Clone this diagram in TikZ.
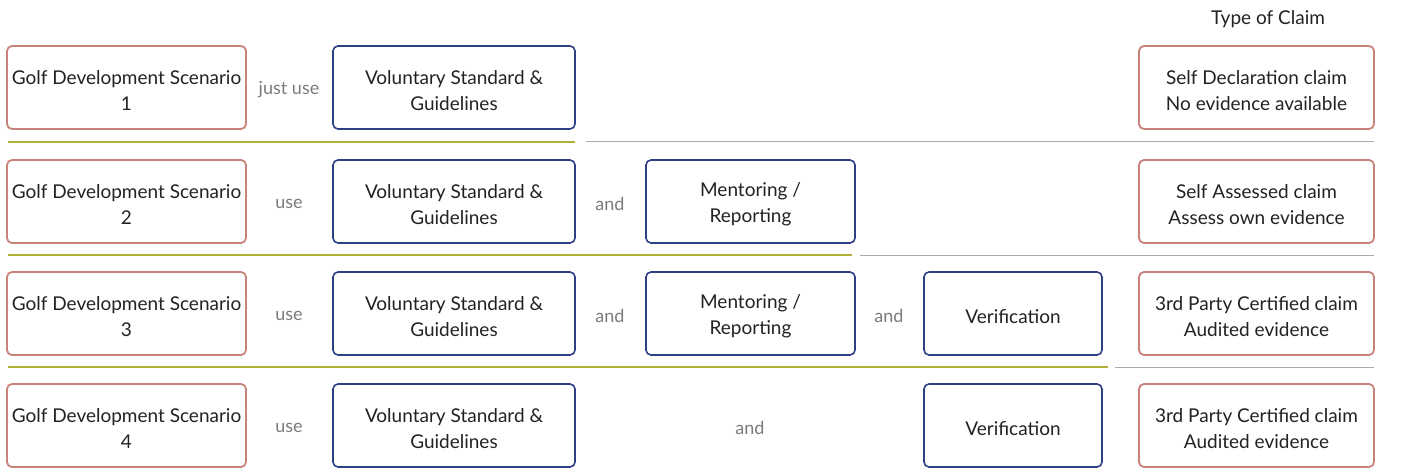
\documentclass[tikz,border=0pt]{standalone}
\usepackage{fontspec}
\setmainfont{Lato}
\definecolor{redb}{HTML}{C8827B}
\definecolor{blueb}{HTML}{2F3F86}
\definecolor{greenl}{HTML}{B0B033}
\definecolor{grayl}{HTML}{ABABAB}
\definecolor{labc}{HTML}{7A7A7A}
\definecolor{txt}{HTML}{222222}
\begin{document}
\begin{tikzpicture}[x=1pt,y=-1pt,
  font=\fontsize{19}{26}\selectfont,
  boxbase/.style={rounded corners=5pt,inner sep=0pt,minimum height=83pt},
  redbox/.style={boxbase,draw=redb,line width=1.8pt},
  bluebox/.style={boxbase,draw=blueb,line width=1.6pt},
  boxtext/.style={text=txt,align=center,inner sep=0pt},
  lab/.style={text=labc,font=\fontsize{18}{20}\selectfont},
  gline/.style={draw=greenl,line width=2.2pt},
  rline/.style={draw=grayl,line width=1pt}]
\useasboundingbox (0,0) rectangle (1408,476);
\node[text=txt] (title) at (1268,19) {Type of Claim};
\foreach \r/\y in {1/87.5,2/201.5,3/313.5,4/425.5}{
  \node[redbox,minimum width=239pt] (s\r) at (126.5,\y) {};
  \node[boxtext] (s\r t) at ([yshift=-3pt]s\r.center) {Golf Development Scenario\\\r};
  \node[bluebox,minimum width=242pt] (v\r) at (454,\y) {};
  \node[boxtext] (v\r t) at ([yshift=-3pt]v\r.center) {Voluntary Standard \&\\Guidelines};
}
\node[lab] (l1) at (289,90) {just use};
\node[lab] (l2) at (289,204) {use};
\node[lab] (l3) at (289,316) {use};
\node[lab] (l4) at (289,428) {use};
\node[lab] (a2) at (610,204) {and};
\node[lab] (a3) at (610,316) {and};
\node[lab] (a3b) at (889,316) {and};
\node[lab] (a4) at (750,428) {and};
\foreach \n/\x/\y/\w/\t in {
  m2/750.5/201.5/209/{Mentoring /\\Reporting},
  m3/750.5/313.5/209/{Mentoring /\\Reporting},
  f3/1013/313.5/178/{Verification},
  f4/1013/425.5/178/{Verification}}{
  \node[bluebox,minimum width=\w pt] (\n) at (\x,\y) {};
  \node[boxtext] (\n t) at ([yshift=-3pt]\n.center) {\t};
}
\foreach \n/\y/\t in {
  c1/87.5/{Self Declaration claim\\No evidence available},
  c2/201.5/{Self Assessed claim\\Assess own evidence},
  c3/313.5/{3rd Party Certified claim\\Audited evidence},
  c4/425.5/{3rd Party Certified claim\\Audited evidence}}{
  \node[redbox,minimum width=235pt] (\n) at (1256.5,\y) {};
  \node[boxtext] (\n t) at ([yshift=-3pt]\n.center) {\t};
}
\coordinate (g1a) at (8,142); \coordinate (g1b) at (575,142);
\coordinate (h1a) at (586,142); \coordinate (h1b) at (1374,142);
\coordinate (g2a) at (8,255); \coordinate (g2b) at (852,255);
\coordinate (h2a) at (860,255); \coordinate (h2b) at (1374,255);
\coordinate (g3a) at (8,367); \coordinate (g3b) at (1108,367);
\coordinate (h3a) at (1115,367); \coordinate (h3b) at (1374,367);
\draw[gline] (g1a) -- (g1b);
\draw[rline] (h1a) -- (h1b);
\draw[gline] (g2a) -- (g2b);
\draw[rline] (h2a) -- (h2b);
\draw[gline] (g3a) -- (g3b);
\draw[rline] (h3a) -- (h3b);
\end{tikzpicture}
\end{document}
